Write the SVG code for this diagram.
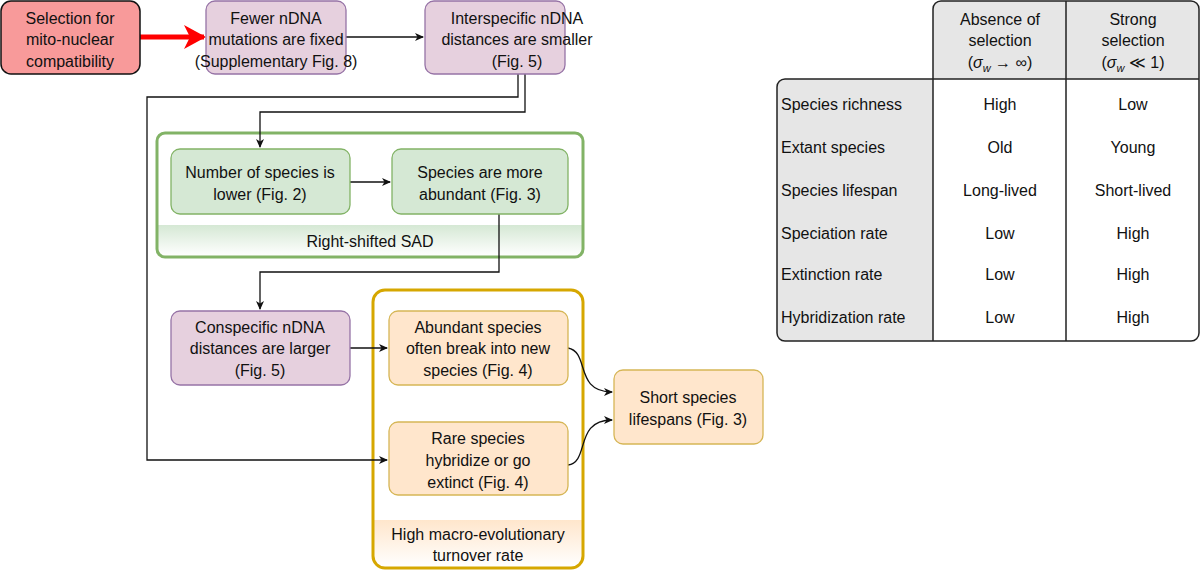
<svg xmlns="http://www.w3.org/2000/svg" width="1200" height="571" viewBox="0 0 1200 571">
<style>
text{font-family:"Liberation Sans",Arial,sans-serif;font-size:16px;fill:#111;text-anchor:middle}
.p{fill:#e6d0de;stroke:#9673a6;stroke-width:1.3}
.g{fill:#d5e8d4;stroke:#82b366;stroke-width:1.3}
.o{fill:#ffe6cc;stroke:#d6b656;stroke-width:1.3}
.c{fill:none;stroke:#111;stroke-width:1.3}
.l{text-anchor:start}
</style>
<defs>
<marker id="a" markerWidth="10" markerHeight="10" refX="8" refY="5" orient="auto" markerUnits="userSpaceOnUse"><path d="M0,1 L9,5 L0,9 L2.5,5 Z" fill="#111"/></marker>
<marker id="r" markerWidth="30" markerHeight="30" refX="20" refY="12" orient="auto" markerUnits="userSpaceOnUse"><path d="M0,0 L22,12 L0,24 L6,12 Z" fill="#f00"/></marker>
<linearGradient id="gg" x1="0" y1="0" x2="0" y2="1"><stop offset="0" stop-color="#d5e8d4"/><stop offset="1" stop-color="#fff"/></linearGradient>
<linearGradient id="og" x1="0" y1="0" x2="0" y2="1"><stop offset="0" stop-color="#ffe6cc"/><stop offset="1" stop-color="#fff"/></linearGradient>
</defs>
<g id="sad">
<rect x="157" y="133" width="426" height="124" rx="8" fill="#fff"/>
<path d="M158,225 H582 V249 a7,7 0 0 1 -7,7 H165 a7,7 0 0 1 -7,-7 Z" fill="url(#gg)"/>
<rect x="157" y="133" width="426" height="124" rx="8" fill="none" stroke="#82b366" stroke-width="3"/>
<text x="370" y="247">Right-shifted SAD</text>
</g>
<g id="turnover">
<rect x="373" y="290" width="210" height="278" rx="12" fill="#fff"/>
<path d="M374,520 H582 V556 a11,11 0 0 1 -11,11 H385 a11,11 0 0 1 -11,-11 Z" fill="url(#og)"/>
<rect x="373" y="290" width="210" height="278" rx="12" fill="none" stroke="#d6a700" stroke-width="3"/>
<text x="478" y="540">High macro-evolutionary</text>
<text x="478" y="561">turnover rate</text>
</g>
<g id="connectors">
<line x1="140" y1="37" x2="204" y2="37" stroke="#f00" stroke-width="5" marker-end="url(#r)"/>
<path class="c" d="M346,37 H423" marker-end="url(#a)"/>
<path class="c" d="M518,74 V97 H147 V460 H387" marker-end="url(#a)"/>
<path class="c" d="M525,74 V112 H260 V147" marker-end="url(#a)"/>
<path class="c" d="M350,182 H390" marker-end="url(#a)"/>
<path class="c" d="M499,214 V272 H260 V309" marker-end="url(#a)"/>
<path class="c" d="M350,348 H387" marker-end="url(#a)"/>
<path class="c" d="M568,348 C590,352 574,392 612,392" marker-end="url(#a)"/>
<path class="c" d="M568,465 C590,462 574,420 612,420" marker-end="url(#a)"/>
</g>
<g id="selection"><rect x="1" y="1" width="139" height="73" rx="10" fill="#f89a9a" stroke="#111" stroke-width="1.5"/>
<text x="70" y="24">Selection for</text><text x="70" y="45">mito-nuclear</text><text x="70" y="67">compatibility</text></g>
<g id="fewer"><rect class="p" x="206" y="1" width="140" height="73" rx="9"/>
<text x="276" y="24">Fewer nDNA</text><text x="276" y="45">mutations are fixed</text><text x="276" y="67">(Supplementary Fig. 8)</text></g>
<g id="inter"><rect class="p" x="425" y="1" width="140" height="73" rx="9"/>
<text x="517" y="24">Interspecific nDNA</text><text x="517" y="45">distances are smaller</text><text x="517" y="67">(Fig. 5)</text></g>
<g id="number"><rect class="g" x="171" y="149" width="179" height="65" rx="9"/>
<text x="260" y="178">Number of species is</text><text x="260" y="200">lower (Fig. 2)</text></g>
<g id="abundant1"><rect class="g" x="392" y="149" width="176" height="65" rx="9"/>
<text x="480" y="178">Species are more</text><text x="480" y="200">abundant (Fig. 3)</text></g>
<g id="consp"><rect class="p" x="171" y="311" width="179" height="74" rx="9"/>
<text x="260" y="333">Conspecific nDNA</text><text x="260" y="354">distances are larger</text><text x="260" y="376">(Fig. 5)</text></g>
<g id="abund"><rect class="o" x="389" y="311" width="179" height="74" rx="9"/>
<text x="478" y="333">Abundant species</text><text x="478" y="354">often break into new</text><text x="478" y="376">species (Fig. 4)</text></g>
<g id="rare"><rect class="o" x="389" y="422" width="179" height="73" rx="9"/>
<text x="478" y="444">Rare species</text><text x="478" y="466">hybridize or go</text><text x="478" y="488">extinct (Fig. 4)</text></g>
<g id="short"><rect class="o" x="614" y="370" width="149" height="74" rx="9"/>
<text x="688" y="403">Short species</text><text x="688" y="425">lifespans (Fig. 3)</text></g>
<g id="table">
<path d="M933,79 V9 a8,8 0 0 1 8,-8 H1191 a8,8 0 0 1 8,8 V79 Z" fill="#e6e6e6"/>
<path d="M933,79 H785 a8,8 0 0 0 -8,8 V333 a8,8 0 0 0 8,8 H933 Z" fill="#e6e6e6"/>
<path d="M933,79 V9 a8,8 0 0 1 8,-8 H1191 a8,8 0 0 1 8,8 V333 a8,8 0 0 1 -8,8 H785 a8,8 0 0 1 -8,-8 V87 a8,8 0 0 1 8,-8 Z M933,79 H1199 M933,79 V341 M1066,1 V341" fill="none" stroke="#222" stroke-width="1.5"/>
<text x="1000" y="25">Absence of</text><text x="1000" y="46">selection</text>
<text x="1000" y="68">(<tspan font-style="italic">σ</tspan><tspan font-size="11" font-style="italic" dy="4">w</tspan><tspan dy="-4"> → ∞)</tspan></text>
<text x="1133" y="25">Strong</text><text x="1133" y="46">selection</text>
<text x="1133" y="68">(<tspan font-style="italic">σ</tspan><tspan font-size="11" font-style="italic" dy="4">w</tspan><tspan dy="-4"> ≪ 1)</tspan></text>
<text class="l" x="781" y="110">Species richness</text><text x="1000" y="110">High</text><text x="1133" y="110">Low</text>
<text class="l" x="781" y="153">Extant species</text><text x="1000" y="153">Old</text><text x="1133" y="153">Young</text>
<text class="l" x="781" y="196">Species lifespan</text><text x="1000" y="196">Long-lived</text><text x="1133" y="196">Short-lived</text>
<text class="l" x="781" y="239">Speciation rate</text><text x="1000" y="239">Low</text><text x="1133" y="239">High</text>
<text class="l" x="781" y="280">Extinction rate</text><text x="1000" y="280">Low</text><text x="1133" y="280">High</text>
<text class="l" x="781" y="323">Hybridization rate</text><text x="1000" y="323">Low</text><text x="1133" y="323">High</text>
</g>
</svg>
